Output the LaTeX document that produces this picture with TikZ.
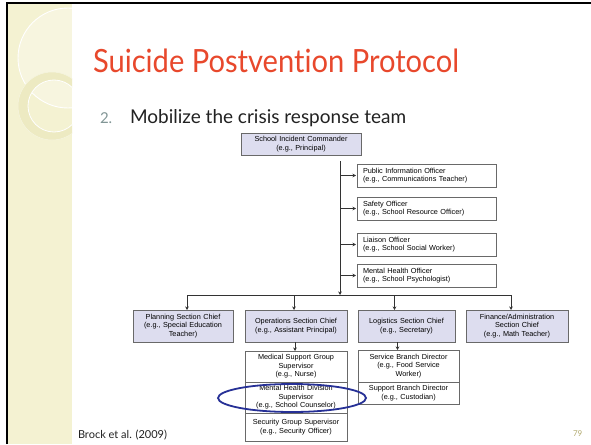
\documentclass[tikz,border=0pt]{standalone}
\usepackage{fontspec}
\setmainfont{Lato}[Ligatures=NoCommon]
\newfontfamily\chartfont{Liberation Sans}
\usetikzlibrary{positioning,arrows.meta}
\definecolor{titlered}{RGB}{232,72,44}
\definecolor{stripyellow}{RGB}{244,242,210}
\definecolor{ringyellow}{RGB}{237,234,194}
\definecolor{chiefblue}{RGB}{221,221,239}
\definecolor{boxgrey}{RGB}{105,105,105}
\definecolor{markblue}{RGB}{38,48,150}
\definecolor{numgrey}{RGB}{130,150,150}
\definecolor{pagenum}{RGB}{178,170,112}
\definecolor{bodytext}{RGB}{34,34,34}

\begin{document}
\begin{tikzpicture}[x=1pt, y=-1pt, >={Stealth[length=3.5pt,width=3.5pt]},
      every node/.append style={inner sep=0pt, outer sep=0pt},
      link/.style={->, draw=black!80, line width=0.7pt}]
    \tikzstyle{box} = [draw=boxgrey, line width=0.8pt, fill=white, align=center,
      inner xsep=1pt, font=\chartfont\fontsize{7.3}{8.5}\selectfont, text=black]
    \tikzstyle{chief} = [box, fill=chiefblue, text width=98pt, minimum height=32pt]
    \tikzstyle{officer} = [box, align=left, inner xsep=6pt, text width=127pt, minimum height=23pt]
    \tikzstyle{branch} = [box, text width=100pt]
    \useasboundingbox (0,0) rectangle (591,444);
    \fill[white] (0,0) rectangle (591,444);
    \fill[stripyellow] (8,4) rectangle (72,444);
    \begin{scope}
      \clip (8,4) rectangle (72,444);
      \fill[white, opacity=0.3] (68,58) circle (50pt);
      \draw[white, line width=0.9pt] (68,58) circle (50pt);
      \fill[ringyellow, even odd rule] (52,106) circle (34pt) (54,106) circle (26pt);
      \draw[white!50!ringyellow, line width=0.5pt] (52,106) circle (34pt);
      \draw[white, line width=0.8pt] (54,106) circle (26pt);
    \end{scope}
    \draw[black, line width=2pt] (7,444) -- (7,3) -- (591,3);

    \node[anchor=base west, text=titlered, font=\fontsize{32}{38}\selectfont] (title) at (93,72) {\scalebox{0.91}[1]{Suicide Postvention Protocol}};
    \node[anchor=base west, text=numgrey, font=\fontsize{15}{18}\selectfont] (num) at (100,123) {2.};
    \node[anchor=base west, text=bodytext, font=\fontsize{19}{22}\selectfont] (item) at (130,123) {Mobilize the crisis response team};

    \node[chief, text width=118pt, minimum height=22pt] (cmd) at (301,144) {School Incident Commander\\(e.g., Principal)};

    \node[officer] (pio) at (426.5,175.5) {Public Information Officer\\(e.g., Communications Teacher)};
    \node[officer] (safety) at (426.5,208.5) {Safety Officer\\(e.g., School Resource Officer)};
    \node[officer] (liaison) at (426.5,244.5) {Liaison Officer\\(e.g., School Social Worker)};
    \node[officer] (mho) at (426.5,275.5) {Mental Health Officer\\(e.g., School Psychologist)};

    \node[chief] (plan) at (183,326) {Planning Section Chief\\(e.g., Special Education\\Teacher)};
    \node[chief, text width=100pt] (ops) at (296,326) {Operations Section Chief\\(e.g., Assistant Principal)};
    \node[chief, text width=95pt] (log) at (406.5,326) {Logistics Section Chief\\(e.g., Secretary)};
    \node[chief, text width=100pt] (fin) at (517,326) {Finance/Administration\\Section Chief\\(e.g., Math Teacher)};

    \node[branch, minimum height=31pt, below=9pt of ops] (medical) {Medical Support Group\\Supervisor\\(e.g., Nurse)};
    \node[branch, minimum height=31pt, below=0pt of medical] (mhd) {Mental Health Division\\Supervisor\\(e.g., School Counselor)};
    \node[branch, minimum height=28pt, below=0pt of mhd] (security) {Security Group Supervisor\\(e.g., Security Officer)};

    \node[branch, text width=99pt, minimum height=32pt] (service) at (408.5,366) {Service Branch Director\\(e.g., Food Service\\Worker)};
    \node[branch, text width=99pt, minimum height=22pt, below=0pt of service] (support) {Support Branch Director\\(e.g., Custodian)};

    \coordinate (spine) at (340,161);
    \coordinate (bus) at (340,295);
    \draw[link] (spine) -- (bus);
    \foreach \o in {pio,safety,liaison,mho}
      \draw[link] (spine |- \o.west) -- ([xshift=-1pt]\o.west);
    \draw[link, -] ([xshift=4pt]plan.north |- bus) -- ([xshift=-6pt]fin.north |- bus);
    \foreach \c/\dx in {plan/4,ops/-2,log/-12,fin/-6}
      \draw[link] ([xshift=\dx pt]\c.north |- bus) -- ([xshift=\dx pt]\c.north);
    \draw[link] ([xshift=-1pt]ops.south) -- ([xshift=-1pt]medical.north);
    \draw[link] ([xshift=-9pt]log.south) -- ([xshift=-9pt]log.south |- service.north);

    \draw[markblue, line width=1.8pt] (292,398) ellipse [x radius=74pt, y radius=14pt];

    \node[anchor=base west, text=bodytext, font=\fontsize{11}{13}\selectfont] (cite) at (78,438) {Brock et al. (2009)};
    \node[anchor=base west, text=pagenum, font=\fontsize{8}{10}\selectfont] (page) at (573,436) {79};
\end{tikzpicture}
\end{document}
